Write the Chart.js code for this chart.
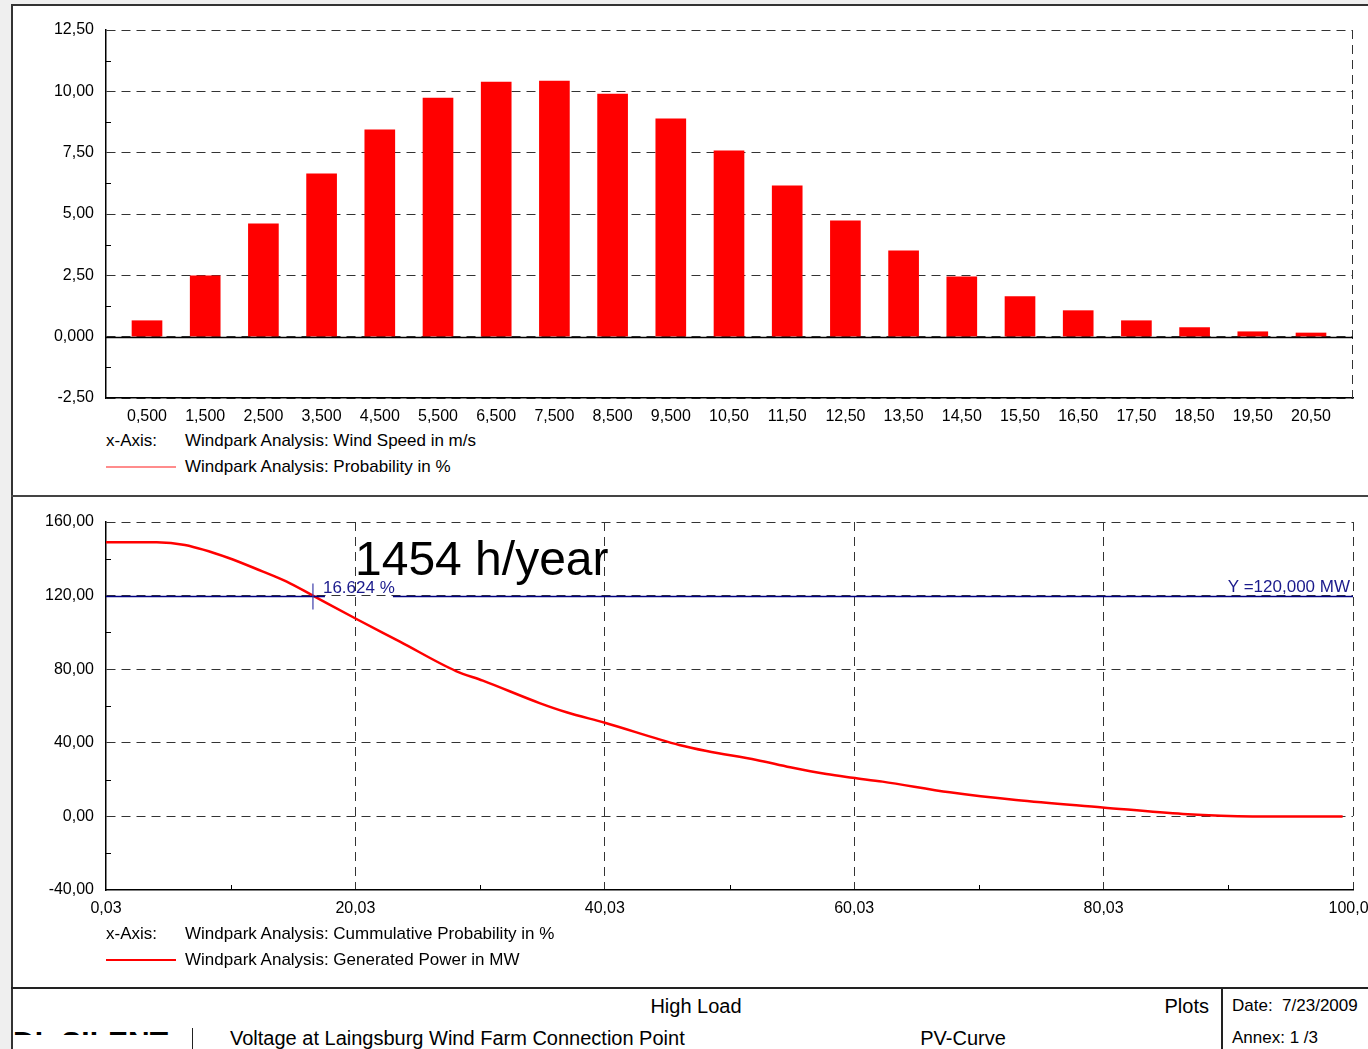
<!DOCTYPE html>
<html>
<head>
<meta charset="utf-8">
<script src="https://cdn.jsdelivr.net/npm/chart.js@4.4.0/dist/chart.umd.min.js"></script>
<style>
  html, body { margin: 0; padding: 0; }
  body { width: 1368px; height: 1049px; overflow: hidden; position: relative; background: #efefef;
         font-family: "Liberation Sans", Arial, sans-serif; color: #000; }
  .sheet { position: absolute; left: 11px; top: 4px; width: 1400px; height: 1100px; background: #fff;
           border-left: 2px solid #333; border-top: 2px solid #333; }
  .abs { position: absolute; white-space: pre; }
  .t17 { font-size: 17px; line-height: 18px; }
  .t20 { font-size: 20px; line-height: 24px; }
  .hline { position: absolute; left: 11px; width: 1400px; background: #222; }
  canvas { position: absolute; }
</style>
</head>
<body>
<div class="sheet"></div>
<div class="hline" style="top:495px;height:2px;background:#444"></div>
<div class="hline" style="top:987px;height:2px;"></div>
<div class="abs" style="left:1221px;top:988px;width:2px;height:70px;background:#222"></div>
<div class="abs" style="left:192px;top:1028px;width:1px;height:30px;background:#222"></div>
<div class="abs" style="left:13px;top:1031px;width:168px;height:4px;overflow:hidden">
  <div style="position:absolute;left:0;top:-4px;font:bold 30px 'Liberation Sans';line-height:30px">DIgSILENT</div>
</div>

<canvas id="windChart" width="1400" height="430" style="left:0;top:0"></canvas>
<canvas id="powerChart" width="1400" height="430" style="left:0;top:496px"></canvas>

<!-- legends -->
<div class="abs t17" style="left:106px;top:432px">x-Axis:</div>
<div class="abs t17" style="left:185px;top:432px">Windpark Analysis: Wind Speed in m/s</div>
<div class="abs" style="left:106px;top:466px;width:70px;height:2px;background:#ff8c8c"></div>
<div class="abs t17" style="left:185px;top:458px">Windpark Analysis: Probability in %</div>

<div class="abs t17" style="left:106px;top:925px">x-Axis:</div>
<div class="abs t17" style="left:185px;top:925px">Windpark Analysis: Cummulative Probability in %</div>
<div class="abs" style="left:106px;top:959px;width:70px;height:2px;background:#ff0000"></div>
<div class="abs t17" style="left:185px;top:951px">Windpark Analysis: Generated Power in MW</div>

<!-- footer -->
<div class="abs t20" style="left:596px;width:200px;text-align:center;top:994px">High Load</div>
<div class="abs t20" style="left:1109px;width:100px;text-align:right;top:994px">Plots</div>
<div class="abs t17" style="left:1232px;top:997px">Date:  7/23/2009</div>
<div class="abs t20" style="left:230px;top:1026px">Voltage at Laingsburg Wind Farm Connection Point</div>
<div class="abs t20" style="left:863px;width:200px;text-align:center;top:1026px">PV-Curve</div>
<div class="abs t17" style="left:1232px;top:1029px">Annex: 1 /3</div>

<script>
// ---- top chart: wind speed distribution
const windSpeed = [0.5, 1.5, 2.5, 3.5, 4.5, 5.5, 6.5, 7.5, 8.5, 9.5, 10.5, 11.5, 12.5, 13.5, 14.5, 15.5, 16.5, 17.5, 18.5, 19.5, 20.5]
const probability = [0.65, 2.48, 4.60, 6.64, 8.43, 9.73, 10.38, 10.42, 9.89, 8.88, 7.57, 6.15, 4.72, 3.50, 2.44, 1.63, 1.06, 0.65, 0.37, 0.20, 0.15]
const speedLabels = ["0,500","1,500","2,500","3,500","4,500","5,500","6,500","7,500","8,500","9,500","10,50","11,50","12,50","13,50","14,50","15,50","16,50","17,50","18,50","19,50","20,50"]
const probTickLabels = ["-2,50","0,000","2,50","5,00","7,50","10,00","12,50"]
const probMinorTicks = [-1.25, 1.25, 3.75, 6.25, 8.75, 11.25]

// ---- bottom chart: power duration curve
const cumProb = [0.03, 4.1, 6.36, 9.81, 12.62, 14.52, 16.62, 20.0, 23.6, 28.1, 30.25, 34.8, 36.96, 40.03, 46.0, 48.2, 52.2, 54.9, 57.8, 59.9, 62.3, 67.7, 73.0, 79.95, 86.4, 91.97, 99.2]
const genPower = [149.0, 149.0, 147.5, 140.6, 133.0, 127.6, 120.0, 107.7, 95.0, 79.0, 73.8, 61.6, 56.6, 50.9, 38.8, 35.5, 30.7, 26.7, 23.0, 21.0, 18.9, 13.1, 8.9, 4.9, 1.3, 0.0, 0.0]
const cumTicks = [0.03, 20.03, 40.03, 60.03, 80.03, 100.03]
const cumTickLabels = ["0,03","20,03","40,03","60,03","80,03","100,03"]
const cumMinorTicks = [10.03, 30.03, 50.03, 70.03, 90.03]
const powerTickLabels = ["-40,00","0,00","40,00","80,00","120,00","160,00"]
const powerMinorTicks = [-20, 20, 60, 100, 140]
const markX = 16.624, markY = 120

const FONT = "'Liberation Sans', Arial, sans-serif"
Chart.defaults.font.family = FONT
Chart.defaults.font.size = 16
Chart.defaults.color = '#000'

function minorTicks(chart, yVals, xVals) {
    const ctx = chart.ctx, a = chart.chartArea
    const x = chart.scales.x, y = chart.scales.y
    ctx.save()
    ctx.strokeStyle = '#000'
    ctx.lineWidth = 1
    ctx.beginPath()
    yVals.forEach(v => { const py = Math.round(y.getPixelForValue(v)) + 0.5; ctx.moveTo(a.left, py); ctx.lineTo(a.left + 5, py) })
    xVals.forEach(v => { const px = Math.round(x.getPixelForValue(v)) + 0.5; ctx.moveTo(px, a.bottom); ctx.lineTo(px, a.bottom - 5) })
    ctx.stroke()
    ctx.restore()
}

const windExtras = {
    id: 'windExtras',
    beforeDatasetsDraw(chart) {
        const ctx = chart.ctx, a = chart.chartArea
        ctx.save()
        ctx.strokeStyle = '#333'
        ctx.setLineDash([9, 6])
        ctx.beginPath()
        ctx.moveTo(a.right - 0.5, a.top); ctx.lineTo(a.right - 0.5, a.bottom)
        ctx.stroke()
        ctx.restore()
        minorTicks(chart, probMinorTicks, [])
    },
    afterDatasetsDraw(chart) {
        const ctx = chart.ctx, a = chart.chartArea
        const y0 = Math.round(chart.scales.y.getPixelForValue(0)) + 0.5
        ctx.save()
        ctx.strokeStyle = '#000'
        ctx.lineWidth = 1.5
        ctx.beginPath()
        ctx.moveTo(a.left, y0); ctx.lineTo(a.right, y0)
        ctx.stroke()
        ctx.restore()
    }
}

new Chart(document.getElementById('windChart'), {
    type: 'bar',
    data: {
        datasets: [{
            data: windSpeed.map((s, i) => ({x: s, y: probability[i]})),
            backgroundColor: '#ff0000',
            borderWidth: 0,
            barThickness: 30
        }]
    },
    options: {
        responsive: false,
        animation: false,
        devicePixelRatio: 1,
        layout: {padding: {left: 0, top: 30, right: 47, bottom: 0}},
        plugins: {legend: {display: false}, tooltip: {enabled: false}},
        scales: {
            x: {
                type: 'linear', min: -0.2045, max: 21.2216, offset: false,
                afterBuildTicks: s => { s.ticks = windSpeed.map(v => ({value: v})) },
                afterFit: s => { s.height = 32 },
                ticks: {padding: 9, maxRotation: 0, autoSkip: false, callback: (v, i) => speedLabels[i]},
                grid: {display: false, drawTicks: false},
                border: {color: '#000', width: 1.5}
            },
            y: {
                min: -2.5, max: 12.5,
                afterFit: s => { s.width = 106 },
                ticks: {stepSize: 2.5, padding: 12, callback: (v, i) => probTickLabels[i]},
                grid: {color: '#333', drawTicks: false},
                border: {color: '#000', width: 1.5, dash: [9, 6]}
            }
        }
    },
    plugins: [windExtras]
});

const powerExtras = {
    id: 'powerExtras',
    beforeDatasetsDraw(chart) {
        minorTicks(chart, powerMinorTicks, cumMinorTicks)
    },
    afterDatasetsDraw(chart) {
        const ctx = chart.ctx, a = chart.chartArea
        const x = chart.scales.x, y = chart.scales.y
        const py = Math.round(y.getPixelForValue(markY)) + 0.5
        const px = x.getPixelForValue(markX)
        ctx.save()
        ctx.strokeStyle = '#000080'
        ctx.lineWidth = 1.5
        ctx.beginPath()
        ctx.moveTo(a.left, py); ctx.lineTo(px + 12, py)
        ctx.moveTo(px + 80, py); ctx.lineTo(a.right, py)
        ctx.stroke()
        ctx.strokeStyle = 'rgba(60,60,170,0.8)'
        ctx.beginPath()
        ctx.moveTo(px, py - 13); ctx.lineTo(px, py + 13)
        ctx.stroke()
        ctx.fillStyle = '#1a1a8c'
        ctx.font = '17px ' + FONT
        ctx.textBaseline = 'alphabetic'
        ctx.textAlign = 'left'
        ctx.fillText('16.624 %', px + 10, py - 4)
        ctx.textAlign = 'right'
        ctx.fillText('Y =120,000 MW', a.right - 3, py - 5)
        ctx.fillStyle = '#000'
        ctx.textAlign = 'left'
        ctx.font = '48px ' + FONT
        ctx.fillText('1454 h/year', a.left + 249, a.top + 53)
        ctx.restore()
    }
}

new Chart(document.getElementById('powerChart'), {
    type: 'line',
    data: {
        datasets: [{
            data: cumProb.map((p, i) => ({x: p, y: genPower[i]})),
            borderColor: '#ff0000',
            borderWidth: 2.5,
            pointRadius: 0,
            cubicInterpolationMode: 'monotone'
        }]
    },
    options: {
        responsive: false,
        animation: false,
        devicePixelRatio: 1,
        layout: {padding: {left: 0, top: 26, right: 47, bottom: 0}},
        plugins: {legend: {display: false}, tooltip: {enabled: false}},
        scales: {
            x: {
                type: 'linear', min: 0.03, max: 100.03,
                afterBuildTicks: s => { s.ticks = cumTicks.map(v => ({value: v})) },
                afterFit: s => { s.height = 36 },
                ticks: {padding: 9, maxRotation: 0, autoSkip: false, callback: (v, i) => cumTickLabels[i]},
                grid: {color: c => c.index === 0 ? 'rgba(0,0,0,0)' : '#333', drawTicks: false},
                border: {color: '#000', width: 1.5, dash: [9, 6]}
            },
            y: {
                min: -40, max: 160,
                afterFit: s => { s.width = 106 },
                ticks: {stepSize: 40, padding: 12, callback: (v, i) => powerTickLabels[i]},
                grid: {color: c => c.index === 0 ? 'rgba(0,0,0,0)' : '#333', drawTicks: false},
                border: {color: '#000', width: 1.5, dash: [9, 6]}
            }
        }
    },
    plugins: [powerExtras]
});
</script>
</body>
</html>
